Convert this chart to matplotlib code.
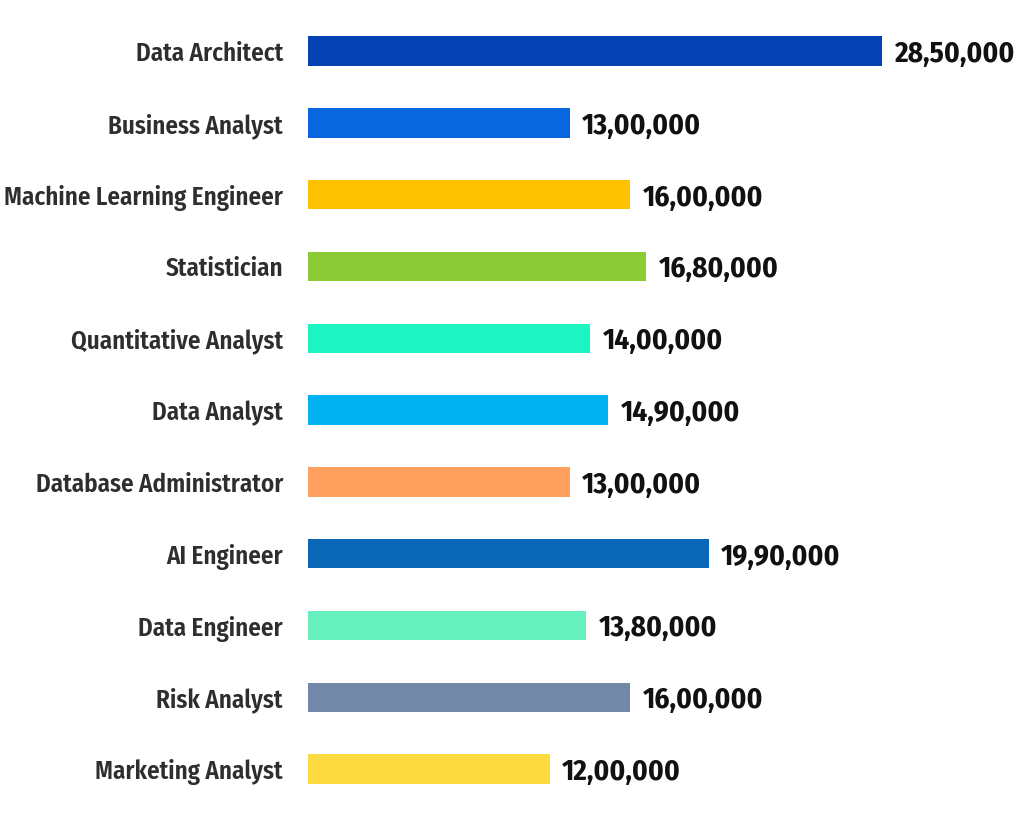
import matplotlib.pyplot as plt

# Roles and salaries (INR), top to bottom as in the chart
roles = ['Data Architect', 'Business Analyst', 'Machine Learning Engineer', 'Statistician',
         'Quantitative Analyst', 'Data Analyst', 'Database Administrator', 'AI Engineer',
         'Data Engineer', 'Risk Analyst', 'Marketing Analyst']
salaries = [2850000, 1300000, 1600000, 1680000, 1400000, 1490000,
            1300000, 1990000, 1380000, 1600000, 1200000]
salary_labels = ['28,50,000', '13,00,000', '16,00,000', '16,80,000', '14,00,000', '14,90,000',
                 '13,00,000', '19,90,000', '13,80,000', '16,00,000', '12,00,000']
colors = ['#0441B3', '#0866DF', '#FFC200', '#8DCB36', '#1CF5C2', '#01B1F1',
          '#FFA05E', '#0A67B8', '#66F0BE', '#7388A8', '#FDDB40']

font = ['Fira Sans Condensed', 'Roboto Condensed', 'Roboto', 'DejaVu Sans']

fig = plt.figure(figsize=(10.24, 8.27), dpi=100)
ax = fig.add_axes([308 / 1024, 0.0266, 702 / 1024, 0.955])

y = list(range(len(roles)))
ax.barh(y, salaries, height=0.41, color=colors)

ax.set_ylim(len(roles) - 0.5, -0.5)
ax.set_xlim(0, 2850000 * 702 / 574)

ax.set_yticks(y)
ax.set_yticklabels(roles, family=font, fontweight='semibold', fontsize=18, color='#2e2e2e')
ax.tick_params(axis='y', length=0, pad=18)
ax.set_xticks([])
for s in ax.spines.values():
    s.set_visible(False)

# value labels at bar ends
for yi, val, lab in zip(y, salaries, salary_labels):
    ax.annotate(lab, (val, yi), xytext=(9, 0), textcoords='offset points',
                ha='left', va='center_baseline', family=font, fontweight='bold',
                fontsize=21, color='#111111')

fig.savefig('out.png', dpi=100, facecolor='white')
